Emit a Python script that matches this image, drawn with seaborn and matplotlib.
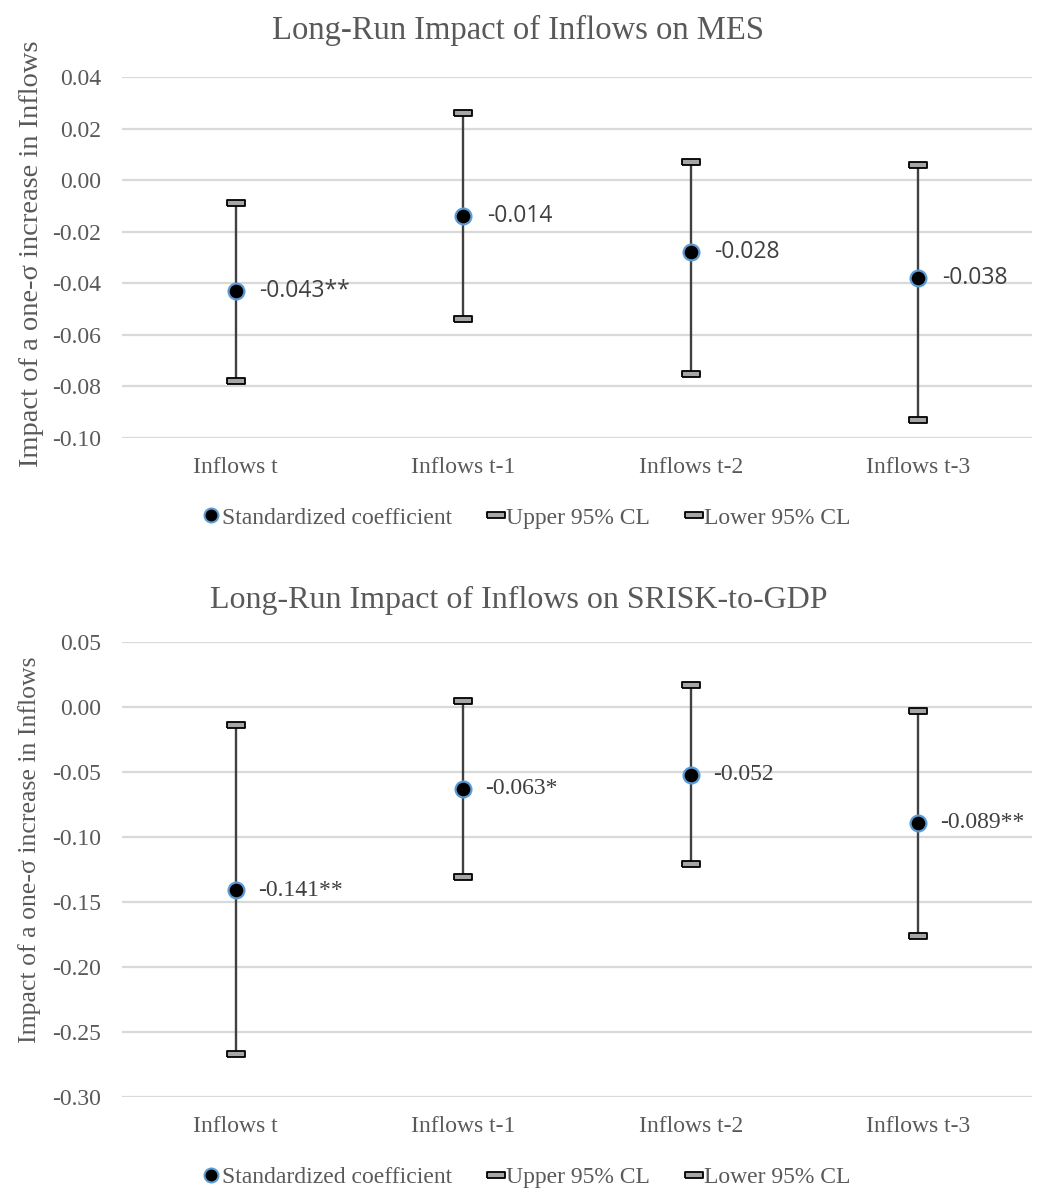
import numpy as np
import pandas as pd
import matplotlib
matplotlib.use("Agg")
import matplotlib.pyplot as plt
from matplotlib.lines import Line2D
import seaborn as sns

# ---- data ----
categories = ["Inflows t", "Inflows t-1", "Inflows t-2", "Inflows t-3"]

mes_coef = [-0.043, -0.014, -0.028, -0.038]
mes_upper = [-0.009, 0.026, 0.007, 0.006]
mes_lower = [-0.078, -0.054, -0.075, -0.093]
mes_labels = ["-0.043**", "-0.014", "-0.028", "-0.038"]

srisk_coef = [-0.141, -0.063, -0.052, -0.089]
srisk_upper = [-0.014, 0.005, 0.017, -0.003]
srisk_lower = [-0.267, -0.131, -0.121, -0.176]
srisk_labels = ["-0.141**", "-0.063*", "-0.052", "-0.089**"]

mes_ticks = [0.04, 0.02, 0.00, -0.02, -0.04, -0.06, -0.08, -0.10]
srisk_ticks = [0.05, 0.00, -0.05, -0.10, -0.15, -0.20, -0.25, -0.30]

title_mes = "Long-Run Impact of Inflows on MES"
title_srisk = "Long-Run Impact of Inflows on SRISK-to-GDP"
ylabel = "Impact of a one-\u03c3 increase in Inflows"
legend_names = ["Standardized coefficient", "Upper 95% CL", "Lower 95% CL"]

# ---- style ----
sns.set_theme(style="white")
plt.rcParams["font.family"] = ["Liberation Serif", "DejaVu Serif"]

TEXT = "#595959"
LINE = "#404040"
GRID = "#D9D9D9"
EDGE_BLUE = "#5B9BD5"
CAP = np.array([[-0.5, -0.14], [0.5, -0.14], [0.5, 0.14], [-0.5, 0.14], [-0.5, -0.14]])

W, H = 1037, 1194
fig = plt.figure(figsize=(W / 100, H / 100), dpi=100)


def px_box(left, top, right, bottom):
    return [left / W, 1 - bottom / H, (right - left) / W, (bottom - top) / H]


def draw_panel(ax, coef, upper, lower, labels, ticks, ann_font, ann_size, ann_dx):
    df = pd.DataFrame({"cat": categories, "coef": coef, "upper": upper, "lower": lower})
    pos = np.arange(len(categories))
    ax.vlines(pos, df["lower"], df["upper"], color=LINE, lw=1.7, zorder=2)
    for col in ["upper", "lower"]:
        sns.scatterplot(data=df, x="cat", y=col, ax=ax, marker=CAP, s=180,
                        color="#A6A6A6", edgecolor="black", linewidth=1.3,
                        zorder=3, legend=False)
    sns.scatterplot(data=df, x="cat", y="coef", ax=ax, marker="o", s=130,
                    color="black", edgecolor=EDGE_BLUE, linewidth=1.6,
                    zorder=4, legend=False)
    for p, v, t in zip(pos, coef, labels):
        ax.annotate(t, (p, v), xytext=(ann_dx, 0), textcoords="offset points",
                    va="center", ha="left", color=LINE,
                    fontsize=ann_size, family=ann_font)
    ax.set_xlim(-0.5, len(categories) - 0.5)
    ax.set_ylim(min(ticks), max(ticks))
    ax.set_yticks(ticks)
    ax.set_yticklabels([f"{t:.2f}" for t in ticks])
    ax.set_xlabel("")
    ax.set_ylabel("")
    ax.yaxis.grid(True, color=GRID, lw=1.6)
    ax.set_axisbelow(True)
    for s in ax.spines.values():
        s.set_visible(False)
    ax.tick_params(axis="both", length=0, labelsize=17, colors=TEXT)
    ax.tick_params(axis="y", pad=15)
    ax.tick_params(axis="x", pad=14)


ax1 = fig.add_axes(px_box(122, 77, 1032, 438))
draw_panel(ax1, mes_coef, mes_upper, mes_lower, mes_labels, mes_ticks,
           ["Open Sans", "DejaVu Sans"], 16.5, 17)

ax2 = fig.add_axes(px_box(122, 642, 1032, 1097))
draw_panel(ax2, srisk_coef, srisk_upper, srisk_lower, srisk_labels, srisk_ticks,
           ["Liberation Serif", "DejaVu Serif"], 17, 16)

fig.text(0.5, 1 - 30 / H, title_mes, ha="center", va="center", fontsize=23.5, color=TEXT)
fig.text(0.5, 1 - 600 / H, title_srisk, ha="center", va="center", fontsize=23, color=TEXT)
fig.text(32 / W, 1 - 254 / H, ylabel, rotation=90, ha="center", va="center",
         fontsize=20.5, color=TEXT)
fig.text(30 / W, 1 - 850 / H, ylabel, rotation=90, ha="center", va="center",
         fontsize=18.5, color=TEXT)

handles = [
    Line2D([], [], ls="none", marker="o", markersize=10, markerfacecolor="black",
           markeredgecolor=EDGE_BLUE, markeredgewidth=1.5),
    Line2D([], [], ls="none", marker=CAP, markersize=13, markerfacecolor="#A6A6A6",
           markeredgecolor="black", markeredgewidth=1.3),
    Line2D([], [], ls="none", marker=CAP, markersize=13, markerfacecolor="#A6A6A6",
           markeredgecolor="black", markeredgewidth=1.3),
]
for yc in (518, 1177):
    fig.legend(handles, legend_names, loc="center", bbox_to_anchor=(0.508, 1 - yc / H),
               ncol=3, frameon=False, fontsize=17, handlelength=0.7,
               handletextpad=0.1, columnspacing=1.5, labelcolor=TEXT)

fig.savefig("out.png", dpi=100, facecolor="white")
